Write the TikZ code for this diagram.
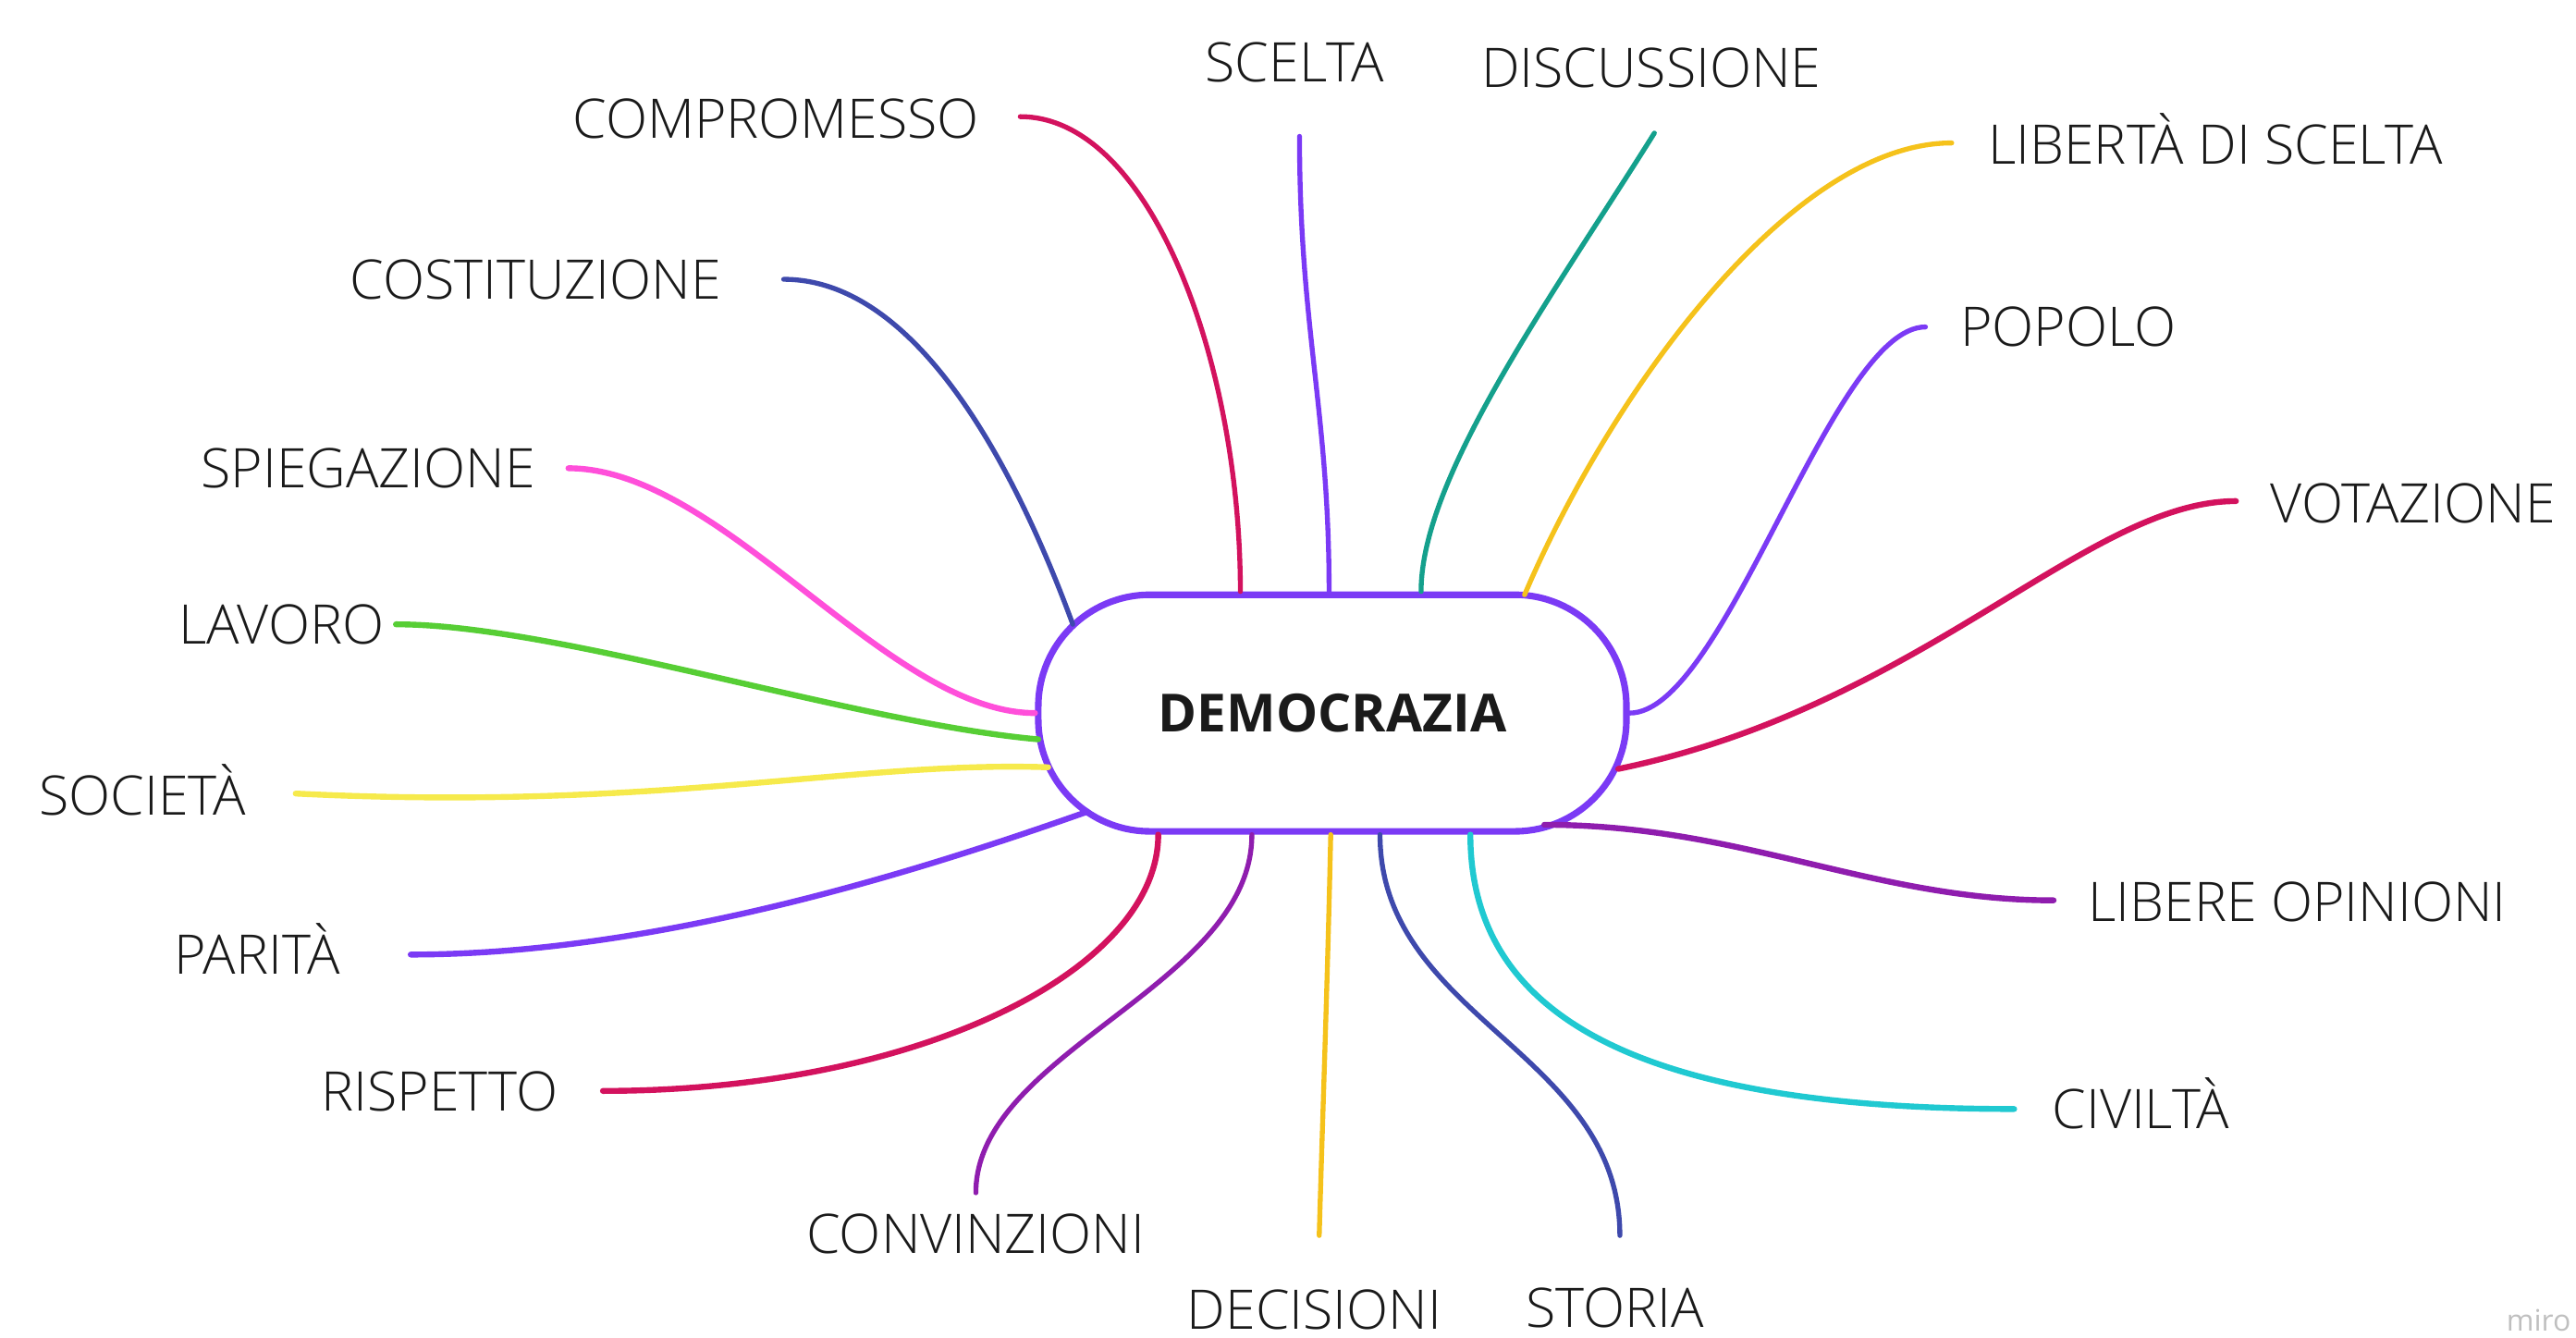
\documentclass[tikz,border=0pt]{standalone}
\usepackage{fontspec}
\setmainfont{Open Sans}
\newfontfamily\lightfont{Open Sans Light}
\definecolor{crimson}{HTML}{D3125E}
\definecolor{mpurple}{HTML}{7B3AF5}
\definecolor{mteal}{HTML}{14A08C}
\definecolor{mgold}{HTML}{F5C21B}
\definecolor{mviolet}{HTML}{8F1DAE}
\definecolor{mcyan}{HTML}{20C9D1}
\definecolor{mindigo}{HTML}{3E49AC}
\definecolor{myellow}{HTML}{F6EA4C}
\definecolor{mgreen}{HTML}{57CE35}
\definecolor{mpink}{HTML}{FF4FDA}
\definecolor{txt}{HTML}{1A1A1A}
\begin{document}
\begin{tikzpicture}[x=1pt,y=-1pt,
  lab/.style={inner sep=0pt, font=\lightfont\fontsize{33.2}{38}\selectfont, text=txt},
  thin link/.style={line width=3pt, line cap=round},
  thick link/.style={line width=3.6pt, line cap=round}]
\useasboundingbox (0,0) rectangle (1568,814);

\node[draw=mpurple, line width=4pt, rounded corners=68pt, minimum width=358pt,
  minimum height=144pt, inner sep=0pt, text=txt,
  font=\bfseries\fontsize{32}{36}\selectfont] (dem) at (811,434) {DEMOCRAZIA};

% labels
\node[lab, anchor=base east] (compromesso) at (596,84) {COMPROMESSO};
\node[lab, anchor=base] (scelta) at (788,50) {SCELTA};
\node[lab, anchor=base] (discussione) at (1005,53) {DISCUSSIONE};
\node[lab, anchor=base west] (liberta) at (1210,100) {LIBERTÀ DI SCELTA};
\node[lab, anchor=base west] (popolo) at (1193,211) {POPOLO};
\node[lab, anchor=base west] (votazione) at (1382,318) {VOTAZIONE};
\node[lab, anchor=base west] (libere) at (1271,561) {LIBERE OPINIONI};
\node[lab, anchor=base west] (civilta) at (1249,687) {CIVILTÀ};
\node[lab, anchor=base] (storia) at (983,808) {STORIA};
\node[lab, anchor=base] (decisioni) at (800,809) {DECISIONI};
\node[lab, anchor=base] (convinzioni) at (594,763) {CONVINZIONI};
\node[lab, anchor=base east] (rispetto) at (340,676) {RISPETTO};
\node[lab, anchor=base east] (parita) at (207,593) {PARITÀ};
\node[lab, anchor=base east] (societa) at (150,496) {SOCIETÀ};
\node[lab, anchor=base east] (lavoro) at (234,392) {LAVORO};
\node[lab, anchor=base east] (spiegazione) at (326,297) {SPIEGAZIONE};
\node[lab, anchor=base east] (costituzione) at (439,182) {COSTITUZIONE};
\node[inner sep=0pt, anchor=base east, text=black!25, font=\fontsize{18}{20}\selectfont] (miro) at (1565,810) {miro};

% free ends of the connectors
\coordinate (e-compromesso) at (621,71);
\coordinate (e-scelta) at (791,83);
\coordinate (e-discussione) at (1007,81);
\coordinate (e-liberta) at (1188,87);
\coordinate (e-popolo) at (1172,199);
\coordinate (e-votazione) at (1361,305);
\coordinate (e-libere) at (1250,548);
\coordinate (e-civilta) at (1226,675);
\coordinate (e-storia) at (986,752);
\coordinate (e-decisioni) at (803,752);
\coordinate (e-convinzioni) at (594,726);
\coordinate (e-rispetto) at (367,664);
\coordinate (e-parita) at (250,581);
\coordinate (e-societa) at (180,483);
\coordinate (e-lavoro) at (241,380);
\coordinate (e-spiegazione) at (346,285);
\coordinate (e-costituzione) at (477,170);

% attachment points on the central node
\coordinate (d-compromesso) at (755,360);
\coordinate (d-scelta) at (809,360);
\coordinate (d-discussione) at (865,360);
\coordinate (d-liberta) at (928,362);
\coordinate (d-popolo) at (992,434);
\coordinate (d-votazione) at (985,468);
\coordinate (d-libere) at (940,502);
\coordinate (d-civilta) at (895,508);
\coordinate (d-storia) at (840,508);
\coordinate (d-decisioni) at (810,508);
\coordinate (d-convinzioni) at (762,508);
\coordinate (d-rispetto) at (705,508);
\coordinate (d-parita) at (662,494);
\coordinate (d-societa) at (638,467);
\coordinate (d-lavoro) at (632,450);
\coordinate (d-spiegazione) at (630,434);
\coordinate (d-costituzione) at (653,380);

% connectors
\draw[thin link, crimson] (d-compromesso) .. controls (755,220) and (700,71) .. (e-compromesso);
\draw[thin link, mpurple] (d-scelta) .. controls (809,250) and (791,200) .. (e-scelta);
\draw[thin link, mteal] (d-discussione) .. controls (865,290) and (945,180) .. (e-discussione);
\draw[thin link, mgold] (d-liberta) .. controls (980,240) and (1090,87) .. (e-liberta);
\draw[thin link, mpurple] (d-popolo) .. controls (1050,434) and (1115,199) .. (e-popolo);
\draw[thick link, crimson] (d-votazione) .. controls (1170,430) and (1270,305) .. (e-votazione);
\draw[thick link, mviolet] (d-libere) .. controls (1060,502) and (1140,548) .. (e-libere);
\draw[thick link, mcyan] (d-civilta) .. controls (895,620) and (1000,675) .. (e-civilta);
\draw[thin link, mindigo] (d-storia) .. controls (840,620) and (986,640) .. (e-storia);
\draw[thin link, mgold] (d-decisioni) .. controls (808,600) and (805,680) .. (e-decisioni);
\draw[thin link, mviolet] (d-convinzioni) .. controls (762,600) and (594,640) .. (e-convinzioni);
\draw[thick link, crimson] (d-rispetto) .. controls (705,590) and (560,664) .. (e-rispetto);
\draw[thick link, mpurple] (d-parita) .. controls (560,530) and (400,581) .. (e-parita);
\draw[thick link, myellow] (d-societa) .. controls (520,463) and (400,494) .. (e-societa);
\draw[thick link, mgreen] (d-lavoro) .. controls (520,440) and (340,380) .. (e-lavoro);
\draw[thick link, mpink] (d-spiegazione) .. controls (540,434) and (440,285) .. (e-spiegazione);
\draw[thin link, mindigo] (d-costituzione) .. controls (620,290) and (560,170) .. (e-costituzione);
\end{tikzpicture}
\end{document}
